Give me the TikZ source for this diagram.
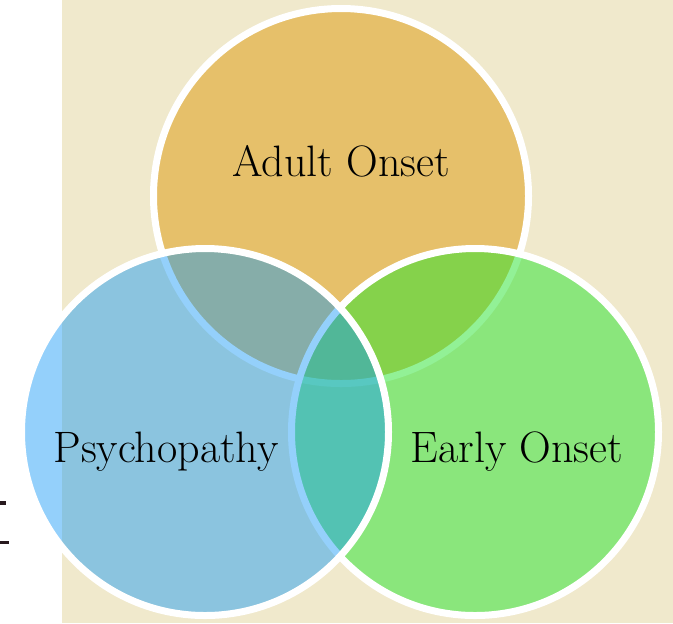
\documentclass[tikz,border=0pt]{standalone}
\usepackage{fontspec}

\definecolor{parchment}{RGB}{240,233,204}
\definecolor{adultfill}{RGB}{230,192,106}
\definecolor{earlyfill}{RGB}{38,228,46}
\definecolor{psychofill}{RGB}{18,152,247}
\definecolor{inkmark}{RGB}{40,25,30}

\begin{document}
\begin{tikzpicture}[x=0.5pt,y=-0.5pt,
	ring/.style={line width=3.5pt,draw=white},
	vennlabel/.style={anchor=base,inner sep=0pt,font=\fontsize{22}{26}\selectfont,text=black}]
	
	\useasboundingbox (0,0) rectangle (673,623);
	\fill[white] (0,0) rectangle (673,623);
	\fill[parchment] (62,0) rectangle (673,623);
	
	% left margin remnants
	\fill[inkmark] (0,501) rectangle (6,505);
	\fill[inkmark] (0,541) rectangle (9,544);
	
	\coordinate (adult)  at (341,196);
	\coordinate (early)  at (475,432);
	\coordinate (psycho) at (205,432);
	
	\filldraw[ring,fill=adultfill] (adult) circle[radius=93.75pt];
	\filldraw[ring,fill=earlyfill,fill opacity=0.5] (early) circle[radius=91.75pt];
	\filldraw[ring,fill=psychofill,fill opacity=0.45] (psycho) circle[radius=91.75pt];
	
	\node[vennlabel] (adultname)  at (341,176) {Adult Onset};
	\node[vennlabel] (psychoname) at (166,462) {Psychopathy};
	\node[vennlabel] (earlyname)  at (517,462) {Early Onset};
\end{tikzpicture}
\end{document}
